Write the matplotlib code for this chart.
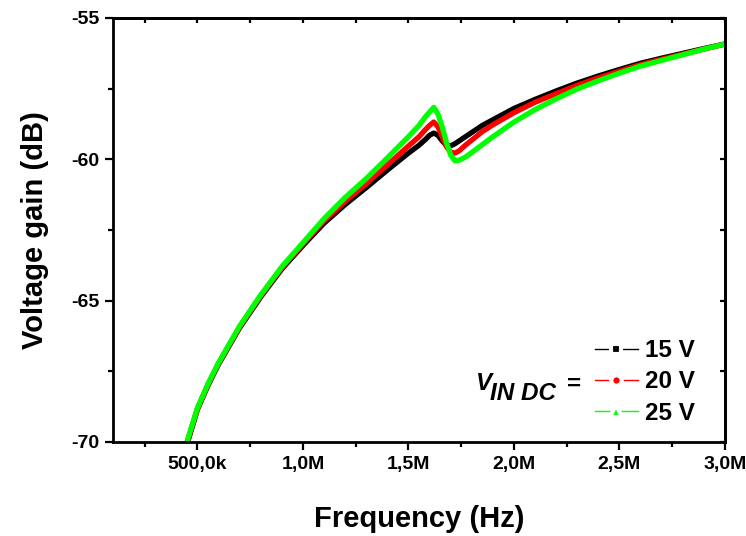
import matplotlib
matplotlib.use('Agg')
import matplotlib.pyplot as plt
from matplotlib.lines import Line2D
from matplotlib.ticker import MultipleLocator, FixedLocator

plt.rcParams['font.family'] = ['Liberation Sans', 'DejaVu Sans']
plt.rcParams['axes.unicode_minus'] = False

# frequency in MHz, gain in dB
freq_mhz = [0.44, 0.50, 0.55, 0.60, 0.70, 0.80, 0.90, 1.00, 1.10, 1.20,
            1.30, 1.40, 1.50, 1.55, 1.58, 1.60, 1.62, 1.64, 1.66, 1.68,
            1.70, 1.72, 1.74, 1.77, 1.80, 1.85, 1.90, 2.00, 2.10, 2.20,
            2.30, 2.40, 2.50, 2.60, 2.70, 2.80, 2.90, 3.00]

gain_15v = [-70.35, -68.85, -68.00, -67.25, -65.96, -64.87, -63.88, -63.05, -62.26, -61.60,
            -61.00, -60.38, -59.78, -59.50, -59.30, -59.15, -59.07, -59.15, -59.35, -59.50,
            -59.52, -59.45, -59.35, -59.20, -59.05, -58.80, -58.60, -58.20, -57.88, -57.58,
            -57.30, -57.05, -56.82, -56.60, -56.42, -56.25, -56.08, -55.92]

gain_20v = [-70.30, -68.82, -67.97, -67.22, -65.93, -64.83, -63.84, -63.00, -62.18, -61.48,
            -60.86, -60.20, -59.53, -59.20, -58.95, -58.80, -58.68, -58.85, -59.20, -59.55,
            -59.75, -59.78, -59.70, -59.50, -59.32, -59.02, -58.78, -58.35, -57.98, -57.68,
            -57.38, -57.12, -56.88, -56.65, -56.46, -56.28, -56.10, -55.92]

gain_25v = [-70.25, -68.80, -67.95, -67.20, -65.90, -64.80, -63.80, -62.95, -62.10, -61.35,
            -60.68, -59.95, -59.20, -58.80, -58.50, -58.33, -58.16, -58.40, -58.85, -59.40,
            -59.85, -60.05, -60.03, -59.92, -59.76, -59.48, -59.20, -58.68, -58.24, -57.86,
            -57.51, -57.22, -56.95, -56.70, -56.50, -56.30, -56.10, -55.92]

series = [('15 V', gain_15v, 'black', 's'),
          ('20 V', gain_20v, 'red', 'o'),
          ('25 V', gain_25v, '#00ff00', '^')]

xtick_pos = [0.5e6, 1.0e6, 1.5e6, 2.0e6, 2.5e6, 3.0e6]
xtick_labels = ['500,0k', '1,0M', '1,5M', '2,0M', '2,5M', '3,0M']
ytick_pos = [-70, -65, -60, -55]
ytick_labels = ['-70', '-65', '-60', '-55']

W, H = 746, 536
fig = plt.figure(figsize=(W / 100, H / 100), dpi=100)
ax = fig.add_axes([113 / W, 94 / H, 612 / W, 424 / H])

freq_hz = [f * 1e6 for f in freq_mhz]
for label, gain, color, marker in series:
    ax.plot(freq_hz, gain, color=color, lw=3.8, solid_capstyle='butt')

ax.set_xlim(0.1e6, 3.0e6)
ax.set_ylim(-70, -55)

ax.xaxis.set_major_locator(FixedLocator(xtick_pos))
ax.set_xticklabels(xtick_labels)
ax.xaxis.set_minor_locator(MultipleLocator(0.25e6))
ax.yaxis.set_major_locator(FixedLocator(ytick_pos))
ax.set_yticklabels(ytick_labels)
ax.yaxis.set_minor_locator(MultipleLocator(2.5))

ax.tick_params(which='major', direction='out', length=6, width=1.6,
               labelsize=14, pad=4, top=False, right=False)
ax.tick_params(which='minor', direction='out', length=3.5, width=1.6,
               top=False, right=False)
for lab in ax.get_xticklabels() + ax.get_yticklabels():
    lab.set_fontweight('bold')
for sp in ax.spines.values():
    sp.set_linewidth(2.0)

# inward ticks on top and right, no labels
top = ax.secondary_xaxis('top')
top.xaxis.set_major_locator(FixedLocator(xtick_pos))
top.xaxis.set_minor_locator(MultipleLocator(0.25e6))
top.tick_params(which='both', direction='in', length=3.5, width=1.6, labeltop=False)
top.spines['top'].set_linewidth(2.0)
right = ax.secondary_yaxis('right')
right.yaxis.set_major_locator(FixedLocator(ytick_pos))
right.yaxis.set_minor_locator(MultipleLocator(2.5))
right.tick_params(which='both', direction='in', length=3.5, width=1.6, labelright=False)
right.spines['right'].set_linewidth(2.0)

ax.set_xlabel('Frequency (Hz)', fontsize=21, fontweight='bold')
ax.xaxis.set_label_coords(0.5, -0.148)
ax.set_ylabel('Voltage gain (dB)', fontsize=21, fontweight='bold')
ax.yaxis.set_label_coords(-0.105, 0.5)

handles = [Line2D([], [], color=c, lw=1.0, marker=m,
                  markersize=8.5 if m == '^' else 7.5,
                  markerfacecolor=c, markeredgecolor='white', markeredgewidth=3.0)
           for _, _, c, m in series]
ax.legend(handles, [s[0] for s in series], loc='center left',
          bbox_to_anchor=(595 / W, 1 - 382 / H), bbox_transform=fig.transFigure,
          frameon=False, borderpad=0, borderaxespad=0, numpoints=1,
          handlelength=1.75, handletextpad=0.3, labelspacing=0.33,
          prop={'weight': 'bold', 'size': 17.5})

fig.text(476 / W, 1 - 390 / H, 'V', fontsize=17.5, fontweight='bold',
         fontstyle='italic', ha='left', va='baseline')
fig.text(490 / W, 1 - 400 / H, 'IN DC', fontsize=17.5, fontweight='bold',
         fontstyle='italic', ha='left', va='baseline')
fig.text(567 / W, 1 - 391 / H, '=', fontsize=17.5, fontweight='bold',
         ha='left', va='baseline')

fig.savefig('out.png', dpi=100)
plt.close(fig)
